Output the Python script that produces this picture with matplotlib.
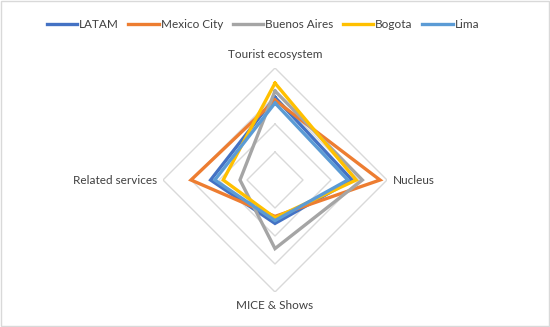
import numpy as np
import matplotlib.pyplot as plt
from matplotlib.patches import Rectangle

plt.rcParams['font.family'] = ['Lato', 'DejaVu Sans']

# axes, clockwise from the top
categories = ['Tourist ecosystem', 'Nucleus', 'MICE & Shows', 'Related services']
series = ['LATAM', 'Mexico City', 'Buenos Aires', 'Bogota', 'Lima']
latam = [2.95, 2.75, 1.55, 2.3]
mexico = [2.85, 3.75, 1.3, 3.0]
buenos_aires = [3.18, 3.12, 2.45, 1.25]
bogota = [3.46, 2.9, 1.35, 1.85]
lima = [2.75, 2.6, 1.45, 2.15]
values = [latam, mexico, buenos_aires, bogota, lima]
colors = ['#4472C4', '#ED7D31', '#A5A5A5', '#FFC000', '#5B9BD5']
rings = [1, 2, 3, 4]

W, H = 550, 327
fig = plt.figure(figsize=(W/100, H/100), dpi=100)
fig.patches.append(Rectangle((0.002, 0.003), 0.996, 0.994, transform=fig.transFigure,
                             fill=False, ec='#D9D9D9', lw=1))

cx, cy, rad = 275, 180, 112
ax = fig.add_axes([(cx-rad)/W, (H-cy-rad)/H, 2*rad/W, 2*rad/H], projection='polar')
ax.set_theta_offset(np.pi/2)
ax.set_theta_direction(-1)
ax.set_ylim(0, rings[-1])
ax.grid(False)
ax.spines['polar'].set_visible(False)
ax.set_xticks([])
ax.set_yticks([])
ax.patch.set_alpha(0)

theta = np.linspace(0, 2*np.pi, len(categories), endpoint=False)
theta_c = np.append(theta, theta[0])

for r in rings:
    ax.plot(theta_c, [r]*len(theta_c), color='#D9D9D9', lw=1, zorder=1)

for name, vals, c in zip(series, values, colors):
    ax.plot(theta_c, vals + vals[:1], color=c, lw=2.4, label=name, zorder=3,
            solid_joinstyle='miter')

# category labels
fs = 8.5
tc = '#404040'
ax.text(0, rings[-1]*1.07, categories[0], ha='center', va='bottom', fontsize=fs, color=tc)
ax.text(theta[1], rings[-1]*1.05, categories[1], ha='left', va='center', fontsize=fs, color=tc)
ax.text(theta[2], rings[-1]*1.07, categories[2], ha='center', va='top', fontsize=fs, color=tc)
ax.text(theta[3], rings[-1]*1.05, categories[3], ha='right', va='center', fontsize=fs, color=tc)

fig.legend(loc='center', bbox_to_anchor=(263/W, 1 - 25/H), ncol=5, frameon=False,
           fontsize=fs, handlelength=2.6, handletextpad=0.15, columnspacing=0.8,
           labelcolor=tc)

fig.savefig('out.png', dpi=100)
